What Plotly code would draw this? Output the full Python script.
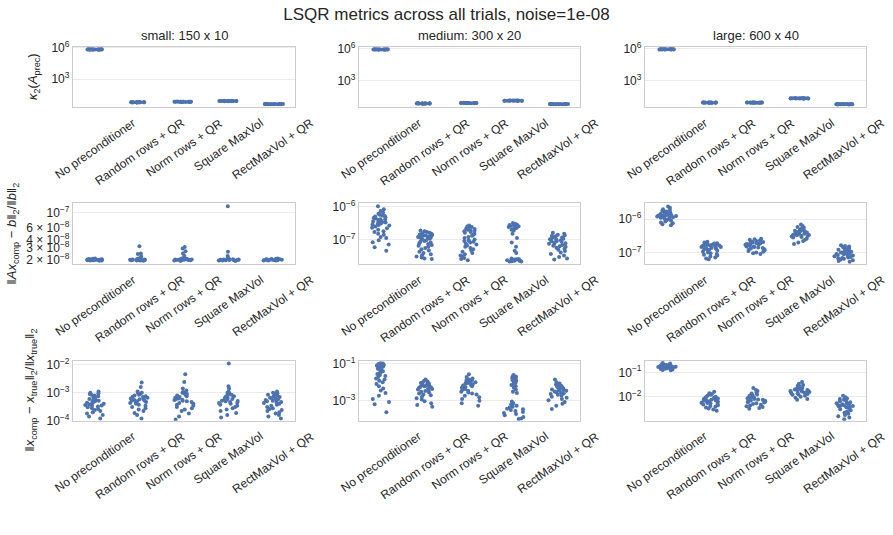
import plotly.graph_objects as go

methods = ["No preconditioner", "Random rows + QR", "Norm rows + QR", "Square MaxVol", "RectMaxVol + QR"]
panel_titles = ["small: 150 x 10", "medium: 300 x 20", "large: 600 x 40"]

# ---- condition number kappa_2(A_prec) ----
kappa_small = [
    [7.0e5, 6.9e5, 6.8e5, 6.7e5, 6.8e5, 6.9e5, 6.6e5, 7.1e5, 6.8e5, 6.7e5, 6.9e5, 7.0e5, 6.8e5, 6.6e5, 6.9e5, 6.7e5],
    [5.6, 5.8, 6.0, 5.9, 6.1, 5.7, 5.9, 6.2, 5.8, 6.0, 5.9, 5.7, 6.1, 5.8, 6.0, 5.9],
    [6.3, 6.5, 6.7, 6.6, 6.8, 6.4, 6.6, 6.9, 6.5, 6.7, 6.6, 6.4, 6.8, 6.5, 6.7, 6.6],
    [7.4, 7.7, 7.9, 7.8, 8.1, 7.6, 7.8, 8.2, 7.7, 7.9, 7.8, 7.5, 8.0, 7.7, 7.9, 7.8],
    [3.8, 3.9, 4.1, 4.0, 4.2, 3.9, 4.0, 4.1, 3.9, 4.0, 4.1, 3.8, 4.0, 3.9, 4.1, 4.0],
]
kappa_medium = [
    [8.7e5, 8.6e5, 8.5e5, 8.4e5, 8.5e5, 8.6e5, 8.3e5, 8.8e5, 8.5e5, 8.4e5, 8.6e5, 8.7e5, 8.5e5, 8.3e5, 8.6e5, 8.4e5],
    [6.9, 7.1, 7.3, 7.2, 7.4, 7.0, 7.2, 7.5, 7.1, 7.3, 7.2, 7.0, 7.4, 7.1, 7.3, 7.2],
    [7.6, 7.8, 8.0, 7.9, 8.2, 7.7, 7.9, 8.3, 7.8, 8.0, 7.9, 7.7, 8.1, 7.8, 8.0, 7.9],
    [12.6, 13.0, 13.4, 13.2, 13.8, 12.8, 13.2, 14.0, 13.0, 13.4, 13.2, 12.7, 13.6, 13.0, 13.4, 13.2],
    [6.1, 6.2, 6.4, 6.3, 6.5, 6.2, 6.3, 6.4, 6.2, 6.3, 6.4, 6.1, 6.3, 6.2, 6.4, 6.3],
]
kappa_large = [
    [8.9e5, 8.8e5, 8.7e5, 8.6e5, 8.7e5, 8.8e5, 8.5e5, 9.0e5, 8.7e5, 8.6e5, 8.8e5, 8.9e5, 8.7e5, 8.5e5, 8.8e5, 8.6e5],
    [8.3, 8.5, 8.8, 8.7, 8.9, 8.4, 8.7, 9.0, 8.5, 8.8, 8.7, 8.4, 8.9, 8.6, 8.8, 8.7],
    [8.3, 8.6, 8.8, 8.7, 9.0, 8.5, 8.7, 9.1, 8.6, 8.8, 8.7, 8.4, 8.9, 8.6, 8.8, 8.7],
    [20.5, 21.3, 22.2, 22.0, 23.0, 21.0, 22.0, 23.5, 21.5, 22.4, 22.0, 20.8, 22.8, 21.6, 22.3, 22.0],
    [5.9, 6.0, 6.3, 6.2, 6.4, 6.0, 6.2, 6.3, 6.1, 6.2, 6.3, 5.9, 6.2, 6.1, 6.3, 6.2],
]

# ---- relative residual ||Ax - b|| / ||b|| ----
resid_small = [
    [2.0e-8, 1.97e-8, 2.03e-8, 2.05e-8, 1.98e-8, 2.01e-8, 2.08e-8, 1.95e-8, 2.02e-8, 2.06e-8, 1.99e-8, 2.04e-8, 2.0e-8, 2.1e-8, 1.96e-8, 2.02e-8, 2.07e-8, 1.98e-8, 2.03e-8, 2.0e-8],
    [3.2e-8, 2.5e-8, 2.45e-8, 2.25e-8, 2.0e-8, 1.97e-8, 2.03e-8, 2.05e-8, 1.98e-8, 2.01e-8, 2.08e-8, 1.95e-8, 2.02e-8, 2.06e-8, 1.99e-8, 2.04e-8, 2.0e-8, 2.1e-8, 1.96e-8, 2.02e-8, 2.12e-8, 2.0e-8],
    [3.1e-8, 2.95e-8, 2.7e-8, 2.5e-8, 2.3e-8, 2.0e-8, 1.97e-8, 2.03e-8, 2.05e-8, 1.98e-8, 2.01e-8, 2.08e-8, 1.95e-8, 2.02e-8, 2.06e-8, 1.99e-8, 2.04e-8, 2.0e-8, 2.1e-8, 1.96e-8, 2.02e-8, 2.12e-8],
    [1.24e-7, 2.65e-8, 2.3e-8, 2.0e-8, 1.97e-8, 2.03e-8, 2.05e-8, 1.98e-8, 2.01e-8, 2.08e-8, 1.94e-8, 2.02e-8, 2.06e-8, 1.99e-8, 2.04e-8, 2.0e-8, 2.1e-8, 1.96e-8, 2.02e-8, 2.12e-8],
    [2.0e-8, 1.97e-8, 2.03e-8, 2.05e-8, 1.98e-8, 2.01e-8, 2.08e-8, 1.96e-8, 2.02e-8, 2.06e-8, 1.99e-8, 2.04e-8, 2.0e-8, 2.1e-8, 1.96e-8, 2.02e-8, 2.07e-8, 1.98e-8, 2.03e-8, 2.0e-8],
]
resid_medium = [
    [1.05e-6, 8.5e-7, 7.5e-7, 6.8e-7, 6.2e-7, 5.8e-7, 5.5e-7, 5.1e-7, 4.8e-7, 4.6e-7, 4.4e-7, 4.2e-7, 4.0e-7, 3.8e-7, 3.6e-7, 3.5e-7, 3.3e-7, 3.1e-7, 3.0e-7, 2.8e-7, 2.7e-7, 2.5e-7, 2.3e-7, 2.2e-7, 2.0e-7, 1.8e-7, 1.7e-7, 1.5e-7, 1.4e-7, 1.2e-7, 1.1e-7, 9.5e-8, 8.2e-8, 7.0e-8, 5.8e-8, 4.5e-8, 4.1e-7, 3.4e-7, 2.9e-7, 5.3e-7],
    [1.9e-7, 1.8e-7, 1.7e-7, 1.6e-7, 1.55e-7, 1.5e-7, 1.45e-7, 1.4e-7, 1.35e-7, 1.3e-7, 1.25e-7, 1.2e-7, 1.15e-7, 1.1e-7, 1.05e-7, 1.0e-7, 9.5e-8, 9.0e-8, 8.5e-8, 8.0e-8, 7.6e-8, 7.2e-8, 6.8e-8, 6.4e-8, 6.0e-8, 5.5e-8, 5.0e-8, 4.6e-8, 4.2e-8, 3.8e-8, 3.5e-8, 3.2e-8, 3.0e-8, 2.8e-8, 2.6e-8, 2.5e-8, 1.42e-7, 1.22e-7, 1.32e-7, 1.12e-7],
    [2.7e-7, 2.5e-7, 2.3e-7, 2.2e-7, 2.1e-7, 2.0e-7, 1.9e-7, 1.8e-7, 1.7e-7, 1.6e-7, 1.5e-7, 1.4e-7, 1.3e-7, 1.2e-7, 1.1e-7, 1.0e-7, 9.5e-8, 9.0e-8, 8.5e-8, 8.0e-8, 7.5e-8, 7.0e-8, 6.5e-8, 6.0e-8, 5.5e-8, 5.0e-8, 4.6e-8, 4.2e-8, 3.8e-8, 3.5e-8, 3.2e-8, 3.0e-8, 2.7e-8, 2.5e-8, 2.3e-8, 2.15e-7, 1.85e-7, 2.4e-7],
    [3.2e-7, 3.0e-7, 2.9e-7, 2.8e-7, 2.7e-7, 2.6e-7, 2.5e-7, 2.4e-7, 2.3e-7, 2.2e-7, 2.1e-7, 2.0e-7, 1.9e-7, 1.5e-7, 1.1e-7, 8.0e-8, 6.0e-8, 4.5e-8, 3.8e-8, 2.6e-8, 2.5e-8, 2.45e-8, 2.4e-8, 2.35e-8, 2.3e-8, 2.25e-8, 2.2e-8, 2.2e-8, 2.15e-8, 2.1e-8, 2.1e-8, 2.3e-8, 2.75e-7, 2.55e-7],
    [1.6e-7, 1.5e-7, 1.4e-7, 1.35e-7, 1.3e-7, 1.25e-7, 1.2e-7, 1.15e-7, 1.1e-7, 1.05e-7, 1.0e-7, 9.5e-8, 9.0e-8, 8.5e-8, 8.0e-8, 7.6e-8, 7.2e-8, 6.8e-8, 6.4e-8, 6.0e-8, 5.6e-8, 5.2e-8, 4.8e-8, 4.4e-8, 4.0e-8, 3.6e-8, 3.2e-8, 2.9e-8, 2.6e-8, 2.4e-8, 8.8e-8, 7.4e-8, 1.02e-7, 6.2e-8],
]
resid_large = [
    [2.4e-6, 2.2e-6, 2.0e-6, 1.9e-6, 1.8e-6, 1.75e-6, 1.7e-6, 1.6e-6, 1.55e-6, 1.5e-6, 1.45e-6, 1.4e-6, 1.35e-6, 1.3e-6, 1.25e-6, 1.2e-6, 1.15e-6, 1.1e-6, 1.05e-6, 1.0e-6, 9.5e-7, 9.0e-7, 8.5e-7, 8.0e-7, 7.5e-7, 7.0e-7, 6.6e-7, 1.3e-6, 1.2e-6, 1.4e-6, 1.1e-6, 1.25e-6, 1.35e-6, 1.15e-6],
    [2.1e-7, 2.0e-7, 1.9e-7, 1.85e-7, 1.8e-7, 1.75e-7, 1.7e-7, 1.65e-7, 1.6e-7, 1.55e-7, 1.5e-7, 1.45e-7, 1.4e-7, 1.35e-7, 1.3e-7, 1.25e-7, 1.2e-7, 1.15e-7, 1.1e-7, 1.05e-7, 1.0e-7, 9.5e-8, 9.0e-8, 8.5e-8, 8.0e-8, 7.5e-8, 7.0e-8, 6.5e-8, 6.2e-8, 1.7e-7, 1.6e-7, 1.45e-7, 1.35e-7],
    [2.6e-7, 2.5e-7, 2.4e-7, 2.3e-7, 2.2e-7, 2.1e-7, 2.05e-7, 2.0e-7, 1.95e-7, 1.9e-7, 1.85e-7, 1.8e-7, 1.75e-7, 1.7e-7, 1.65e-7, 1.6e-7, 1.55e-7, 1.5e-7, 1.45e-7, 1.4e-7, 1.35e-7, 1.3e-7, 1.25e-7, 1.2e-7, 1.15e-7, 1.1e-7, 1.05e-7, 1.0e-7, 9.5e-8, 9.0e-8, 1.7e-7, 1.5e-7, 1.9e-7],
    [6.9e-7, 6.3e-7, 5.8e-7, 5.5e-7, 5.2e-7, 5.0e-7, 4.8e-7, 4.6e-7, 4.4e-7, 4.3e-7, 4.2e-7, 4.0e-7, 3.9e-7, 3.8e-7, 3.7e-7, 3.6e-7, 3.5e-7, 3.4e-7, 3.3e-7, 3.2e-7, 3.1e-7, 3.0e-7, 2.9e-7, 2.8e-7, 2.6e-7, 2.4e-7, 2.2e-7, 2.0e-7, 1.8e-7, 4.5e-7, 4.1e-7, 3.65e-7, 3.35e-7],
    [1.65e-7, 1.55e-7, 1.5e-7, 1.45e-7, 1.4e-7, 1.35e-7, 1.3e-7, 1.25e-7, 1.2e-7, 1.15e-7, 1.1e-7, 1.05e-7, 1.0e-7, 9.6e-8, 9.2e-8, 8.8e-8, 8.4e-8, 8.0e-8, 7.6e-8, 7.3e-8, 7.0e-8, 6.7e-8, 6.4e-8, 6.1e-8, 5.8e-8, 5.5e-8, 5.2e-8, 8.5e-8, 7.8e-8, 9.0e-8, 1.0e-7, 6.8e-8],
]

# ---- relative solution error ||x_comp - x_true|| / ||x_true|| ----
err_small = [
    [1.1e-3, 1.0e-3, 9.5e-4, 9.0e-4, 8.5e-4, 8.0e-4, 7.5e-4, 7.0e-4, 6.5e-4, 6.0e-4, 5.6e-4, 5.2e-4, 4.9e-4, 4.6e-4, 4.3e-4, 4.0e-4, 3.8e-4, 3.6e-4, 3.4e-4, 3.2e-4, 3.0e-4, 2.8e-4, 2.6e-4, 2.4e-4, 2.2e-4, 2.0e-4, 1.8e-4, 1.6e-4, 1.4e-4, 1.2e-4, 4.4e-4, 5.4e-4, 3.5e-4],
    [2.3e-3, 1.6e-3, 1.1e-3, 1.0e-3, 9.5e-4, 9.0e-4, 8.5e-4, 8.0e-4, 7.5e-4, 7.0e-4, 6.6e-4, 6.2e-4, 5.8e-4, 5.5e-4, 5.2e-4, 4.9e-4, 4.6e-4, 4.3e-4, 4.0e-4, 3.7e-4, 3.4e-4, 3.1e-4, 2.8e-4, 2.5e-4, 2.2e-4, 1.9e-4, 1.6e-4, 1.2e-4, 6.0e-4, 7.2e-4, 5.3e-4, 4.5e-4],
    [4.5e-3, 2.4e-3, 1.4e-3, 1.2e-3, 1.05e-3, 1.0e-3, 9.5e-4, 9.0e-4, 8.5e-4, 8.0e-4, 7.5e-4, 7.0e-4, 6.6e-4, 6.2e-4, 5.8e-4, 5.5e-4, 5.2e-4, 4.9e-4, 4.6e-4, 4.3e-4, 4.0e-4, 3.7e-4, 3.4e-4, 3.1e-4, 2.8e-4, 2.5e-4, 2.2e-4, 1.8e-4, 1.4e-4, 1.1e-4, 6.4e-4, 5.6e-4],
    [1.1e-2, 1.7e-3, 1.4e-3, 1.1e-3, 1.0e-3, 9.5e-4, 9.0e-4, 8.5e-4, 8.0e-4, 7.5e-4, 7.0e-4, 6.6e-4, 6.2e-4, 5.8e-4, 5.5e-4, 5.2e-4, 4.9e-4, 4.6e-4, 4.3e-4, 4.0e-4, 3.7e-4, 3.4e-4, 3.1e-4, 2.8e-4, 2.5e-4, 2.2e-4, 1.9e-4, 1.6e-4, 1.3e-4, 5.0e-4, 6.0e-4, 4.4e-4],
    [1.1e-3, 1.0e-3, 9.5e-4, 9.0e-4, 8.5e-4, 8.0e-4, 7.5e-4, 7.0e-4, 6.6e-4, 6.2e-4, 5.8e-4, 5.5e-4, 5.2e-4, 4.9e-4, 4.6e-4, 4.3e-4, 4.0e-4, 3.7e-4, 3.4e-4, 3.1e-4, 2.8e-4, 2.6e-4, 2.4e-4, 2.2e-4, 2.0e-4, 1.8e-4, 1.6e-4, 1.4e-4, 1.2e-4, 5.0e-4, 6.4e-4, 4.4e-4],
]
err_medium = [
    [1.1e-1, 1.0e-1, 9.5e-2, 9.0e-2, 8.5e-2, 8.0e-2, 7.5e-2, 7.0e-2, 6.5e-2, 6.0e-2, 5.5e-2, 5.0e-2, 4.5e-2, 4.0e-2, 3.6e-2, 3.2e-2, 2.8e-2, 2.5e-2, 2.2e-2, 1.9e-2, 1.6e-2, 1.4e-2, 1.2e-2, 1.0e-2, 8.0e-3, 6.0e-3, 4.5e-3, 3.5e-3, 2.5e-3, 1.8e-3, 1.2e-3, 8.0e-4, 6.0e-4, 2.2e-4, 9.0e-2, 7.0e-2, 1.05e-1, 8.5e-2],
    [1.4e-2, 1.2e-2, 1.1e-2, 1.0e-2, 9.0e-3, 8.5e-3, 8.0e-3, 7.5e-3, 7.0e-3, 6.5e-3, 6.0e-3, 5.5e-3, 5.0e-3, 4.6e-3, 4.2e-3, 3.9e-3, 3.6e-3, 3.3e-3, 3.0e-3, 2.7e-3, 2.4e-3, 2.1e-3, 1.9e-3, 1.6e-3, 1.3e-3, 1.1e-3, 9.0e-4, 7.0e-4, 5.5e-4, 4.5e-4, 6.8e-3, 5.2e-3],
    [2.7e-2, 1.9e-2, 1.6e-2, 1.4e-2, 1.3e-2, 1.2e-2, 1.1e-2, 1.0e-2, 9.0e-3, 8.2e-3, 7.5e-3, 7.0e-3, 6.5e-3, 6.0e-3, 5.5e-3, 5.0e-3, 4.6e-3, 4.2e-3, 3.8e-3, 3.4e-3, 3.0e-3, 2.7e-3, 2.4e-3, 2.1e-3, 1.8e-3, 1.5e-3, 1.2e-3, 9.5e-4, 7.0e-4, 5.0e-4, 8.6e-3, 1.15e-2],
    [2.5e-2, 2.2e-2, 2.0e-2, 1.8e-2, 1.6e-2, 1.5e-2, 1.4e-2, 1.3e-2, 1.2e-2, 1.1e-2, 1.0e-2, 9.0e-3, 8.0e-3, 7.0e-3, 6.0e-3, 5.0e-3, 4.0e-3, 3.0e-3, 2.5e-3, 8.5e-4, 7.0e-4, 6.0e-4, 5.0e-4, 4.5e-4, 4.0e-4, 3.5e-4, 3.2e-4, 2.9e-4, 2.6e-4, 2.3e-4, 2.0e-4, 1.8e-4, 1.5e-4, 1.2e-4, 1.0e-4, 9.5e-5],
    [1.4e-2, 1.0e-2, 8.5e-3, 7.5e-3, 6.8e-3, 6.2e-3, 5.7e-3, 5.2e-3, 4.8e-3, 4.4e-3, 4.0e-3, 3.7e-3, 3.4e-3, 3.1e-3, 2.8e-3, 2.6e-3, 2.4e-3, 2.2e-3, 2.0e-3, 1.8e-3, 1.6e-3, 1.4e-3, 1.2e-3, 1.0e-3, 8.0e-4, 6.5e-4, 5.0e-4, 3.3e-4, 4.5e-3, 3.5e-3],
]
err_large = [
    [0.24, 0.23, 0.22, 0.21, 0.20, 0.20, 0.19, 0.19, 0.18, 0.18, 0.175, 0.17, 0.17, 0.165, 0.16, 0.16, 0.155, 0.15, 0.15, 0.145, 0.14, 0.14, 0.135, 0.13, 0.125, 0.12, 0.185, 0.175, 0.165, 0.195, 0.172, 0.158],
    [1.6e-2, 1.4e-2, 1.3e-2, 1.2e-2, 1.1e-2, 1.0e-2, 9.5e-3, 9.0e-3, 8.5e-3, 8.0e-3, 7.6e-3, 7.2e-3, 6.8e-3, 6.4e-3, 6.0e-3, 5.7e-3, 5.4e-3, 5.1e-3, 4.8e-3, 4.5e-3, 4.2e-3, 3.9e-3, 3.6e-3, 3.3e-3, 3.0e-3, 2.7e-3, 7.0e-3, 6.2e-3, 5.5e-3, 8.0e-3],
    [2.3e-2, 1.9e-2, 1.7e-2, 1.5e-2, 1.35e-2, 1.25e-2, 1.15e-2, 1.05e-2, 9.8e-3, 9.2e-3, 8.6e-3, 8.0e-3, 7.5e-3, 7.0e-3, 6.6e-3, 6.2e-3, 5.8e-3, 5.4e-3, 5.0e-3, 4.7e-3, 4.4e-3, 4.1e-3, 3.8e-3, 3.5e-3, 3.2e-3, 7.8e-3, 6.8e-3, 9.0e-3, 1.1e-2, 6.0e-3],
    [4.0e-2, 3.4e-2, 3.0e-2, 2.8e-2, 2.6e-2, 2.4e-2, 2.3e-2, 2.2e-2, 2.1e-2, 2.0e-2, 1.9e-2, 1.8e-2, 1.75e-2, 1.7e-2, 1.65e-2, 1.6e-2, 1.55e-2, 1.5e-2, 1.45e-2, 1.4e-2, 1.35e-2, 1.3e-2, 1.25e-2, 1.2e-2, 1.1e-2, 1.0e-2, 9.0e-3, 8.0e-3, 7.5e-3, 1.85e-2],
    [1.1e-2, 9.5e-3, 8.5e-3, 8.0e-3, 7.5e-3, 7.0e-3, 6.5e-3, 6.0e-3, 5.6e-3, 5.2e-3, 4.9e-3, 4.6e-3, 4.3e-3, 4.0e-3, 3.7e-3, 3.4e-3, 3.1e-3, 2.8e-3, 2.5e-3, 2.2e-3, 2.0e-3, 1.8e-3, 1.6e-3, 1.4e-3, 1.2e-3, 4.5e-3, 5.0e-3, 3.8e-3, 4.2e-3, 5.4e-3],
]

row_labels = [
    "<i>κ</i><sub>2</sub>(<i>A</i><sub>prec</sub>)",
    "‖<i>Ax</i><sub>comp</sub> − <i>b</i>‖<sub>2</sub>/‖<i>b</i>‖<sub>2</sub>",
    "‖<i>x</i><sub>comp</sub> − <i>x</i><sub>true</sub>‖<sub>2</sub>/‖<i>x</i><sub>true</sub>‖<sub>2</sub>",
]
panels = [
    [kappa_small, kappa_medium, kappa_large],
    [resid_small, resid_medium, resid_large],
    [err_small, err_medium, err_large],
]


def sup(e):
    return "10<sup>" + str(e).replace("-", "−") + "</sup>"


y_ticks = [
    [([1e3, 1e6], [sup(3), sup(6)])] * 3,
    [([2e-8, 3e-8, 4e-8, 6e-8, 1e-7],
      ["2 × " + sup(-8), "3 × " + sup(-8), "4 × " + sup(-8), "6 × " + sup(-8), sup(-7)]),
     ([1e-7, 1e-6], [sup(-7), sup(-6)]),
     ([1e-7, 1e-6], [sup(-7), sup(-6)])],
    [([1e-4, 1e-3, 1e-2], [sup(-4), sup(-3), sup(-2)]),
     ([1e-3, 1e-1], [sup(-3), sup(-1)]),
     ([1e-3, 1e-2, 1e-1], [sup(-3), sup(-2), sup(-1)])],
]
# log10 axis ranges
y_ranges = [
    [[0.29, 6.1], [0.5, 6.19], [0.5, 6.19]],
    [[-7.758, -6.863], [-7.755, -5.887], [-7.35, -5.52]],
    [[-4.0, -1.86], [-4.12, -0.82], [-2.98, -0.525]],
]

W, H = 893, 535
dom_x = [(73, 295), (359, 580), (645, 866)]
dom_y = [(46.7, 107.3), (203.3, 264.0), (360.7, 420.7)]
ylabel_x = [34, 13, 31]

TXT = "#262626"
FONT = "Liberation Sans, Arial, sans-serif"
GRID = "#ebebeb"
FRAME = "#cccccc"
DOT = "#4c72b0"

fig = go.Figure()
annotations = []
layout_axes = {}

for r in range(3):
    for c in range(3):
        n = r * 3 + c + 1
        xname = "x" if n == 1 else f"x{n}"
        yname = "y" if n == 1 else f"y{n}"
        data = panels[r][c]
        xs = [m for m, vals in zip(methods, data) for _ in vals]
        ys = [v for vals in data for v in vals]
        fig.add_trace(go.Box(
            x=xs, y=ys, xaxis=xname, yaxis=yname,
            boxpoints="all", jitter=1, pointpos=0, width=0.46,
            fillcolor="rgba(0,0,0,0)", line=dict(width=0, color="rgba(0,0,0,0)"),
            marker=dict(color=DOT, size=4, opacity=1),
            hoveron="points", showlegend=False,
        ))
        tv, tt = y_ticks[r][c]
        x0, x1 = dom_x[c]
        yt, yb = dom_y[r]
        layout_axes["xaxis" if n == 1 else f"xaxis{n}"] = dict(
            domain=[x0 / W, x1 / W], anchor=yname, automargin=False,
            type="category", categoryorder="array", categoryarray=methods,
            range=[-0.5, 4.5], showticklabels=False, showgrid=False, zeroline=False,
            showline=True, mirror=True, linecolor=FRAME, linewidth=1.25, ticks="",
        )
        layout_axes["yaxis" if n == 1 else f"yaxis{n}"] = dict(
            domain=[1 - yb / H, 1 - yt / H], anchor=xname, automargin=False,
            type="log", range=y_ranges[r][c],
            tickvals=tv, ticktext=tt, ticks="",
            showgrid=not (r == 1 and c == 0), gridcolor=GRID, gridwidth=1,
            zeroline=False, showline=True, mirror=True, linecolor=FRAME, linewidth=1.25,
            tickfont=dict(size=12, color=TXT, family=FONT),
        )

        # rotated category labels, centred under each category (matplotlib style)
        for m in methods:
            annotations.append(dict(
                x=m, y=0, xref=xname, yref=f"{yname} domain",
                text=m, textangle=-35, xanchor="center", yanchor="top",
                yshift=-6, showarrow=False,
                font=dict(size=12, color=TXT, family=FONT),
            ))
        if r == 0:
            annotations.append(dict(
                x=0.5, y=1, xref=f"{xname} domain", yref=f"{yname} domain",
                text=panel_titles[c], xanchor="center", yanchor="bottom", yshift=2,
                showarrow=False, font=dict(size=13, color=TXT, family=FONT),
            ))
    # row y-axis label
    yt, yb = dom_y[r]
    annotations.append(dict(
        x=ylabel_x[r] / W, y=1 - (yt + yb) / 2 / H, xref="paper", yref="paper",
        text=row_labels[r], textangle=-90, xanchor="center", yanchor="middle",
        showarrow=False, font=dict(size=13, color=TXT, family=FONT),
    ))

fig.update_layout(**layout_axes)
fig.add_shape(type="line", xref="x4 domain", yref="y4", x0=0, x1=1, y0=1e-7, y1=1e-7,
              line=dict(color=GRID, width=1), layer="below")
fig.update_layout(
    template="none",
    width=W, height=H,
    margin=dict(l=0, r=0, t=0, b=0, autoexpand=False),
    paper_bgcolor="white", plot_bgcolor="white",
    font=dict(family=FONT, color=TXT, size=12),
    title=dict(text="LSQR metrics across all trials, noise=1e-08", x=0.5, xanchor="center",
               y=1 - 14 / H, yanchor="middle", font=dict(size=17, color=TXT, family=FONT)),
    annotations=annotations,
    showlegend=False,
)
fig.write_html("out.html")
